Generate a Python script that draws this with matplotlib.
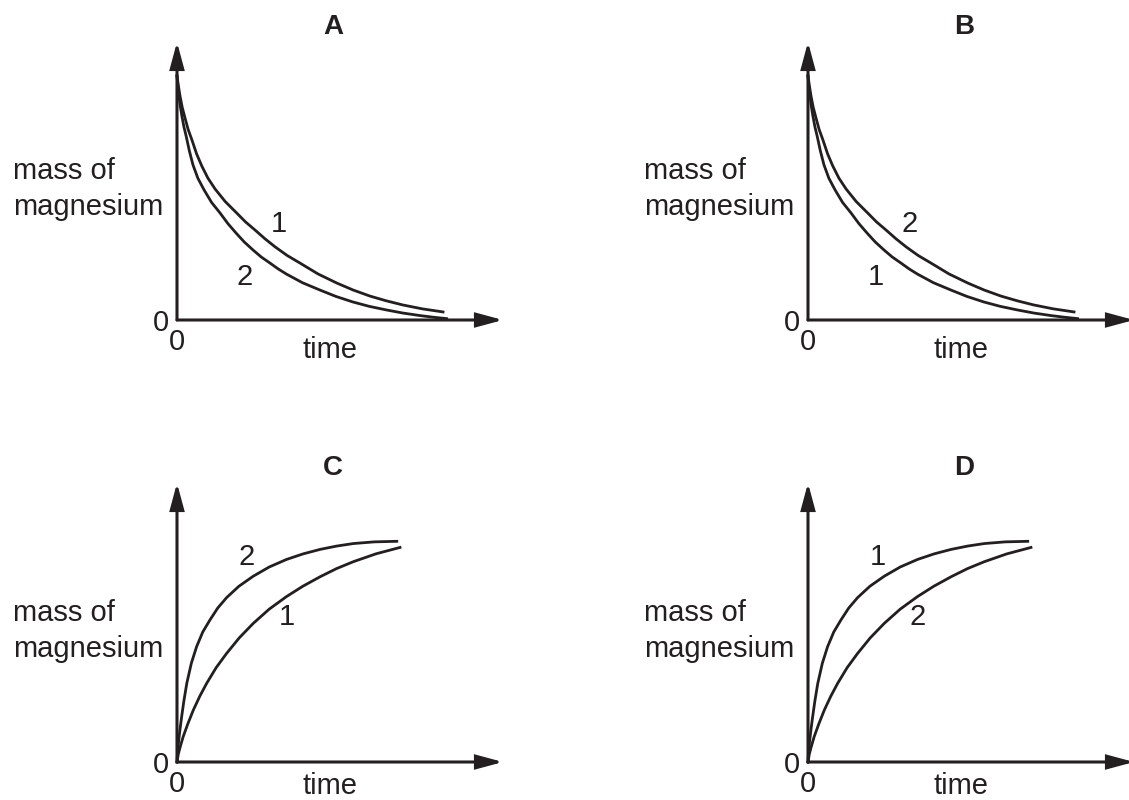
import matplotlib
matplotlib.use('Agg')
import matplotlib.pyplot as plt

plt.rcParams['font.family'] = ['Liberation Sans', 'DejaVu Sans']

# curves (time and mass in percent of the drawn axes)
# falling curves, used in A and B
fall_slow_t = [0, 0.4, 0.92, 1.6, 2.45, 3.4, 4.6, 6.0, 7.6, 9.5, 11.7, 14.8, 18.3, 21.0,
               23.9, 27.0, 30.1, 33.8, 37.7, 43.2, 49.0, 54.0, 59.2, 64.2, 69.3, 75.3, 81.6]
fall_slow_m = [87.8, 84.5, 80.6, 76.5, 72.7, 68.6, 64.7, 59.8, 55.4, 51.0, 47.1, 42.6, 38.5, 35.3,
               32.4, 29.2, 26.3, 23.2, 20.5, 16.6, 13.3, 10.8, 8.6, 6.9, 5.4, 4.0, 2.9]
fall_fast_t = [0, 0.25, 0.6, 1.0, 1.5, 2.1, 2.8, 3.8, 4.9, 6.4, 8.3, 10.6, 13.2, 15.6, 18.1, 20.6,
               23.3, 25.8, 28.5, 31.0, 33.6, 38.5, 43.8, 48.7, 53.9, 59.0, 64.3, 69.3, 74.5, 78.6, 82.7]
fall_fast_m = [87.8, 84.0, 80.6, 77.0, 73.4, 69.6, 66.2, 60.8, 55.8, 51.0, 46.8, 42.3, 38.5, 34.7, 31.3, 28.1,
               25.2, 22.7, 20.5, 18.4, 16.5, 13.4, 10.8, 8.5, 6.5, 4.9, 3.6, 2.5, 1.6, 1.0, 0.5]

# rising curves, used in C and D
rise_fast_t = [0, 0.15, 0.45, 0.9, 1.4, 2.1, 3.0, 4.4, 6.0, 7.9, 10.1, 12.5, 15.2, 19.0,
               23.4, 28.3, 33.6, 38.7, 43.9, 49.0, 54.1, 60.5, 67.4]
rise_fast_m = [0, 3.2, 7.0, 11.5, 16.0, 21.8, 28.2, 35.4, 41.3, 46.6, 50.9, 55.2, 58.9, 63.0,
               66.6, 69.9, 72.6, 74.6, 76.2, 77.4, 78.3, 78.9, 79.1]
rise_slow_t = [0, 0.4, 1.0, 1.9, 3.3, 5.0, 7.0, 9.1, 12.0, 15.2, 19.1, 23.4, 28.3, 33.6,
               38.6, 43.9, 48.9, 54.1, 61.0, 68.4]
rise_slow_m = [0, 2.8, 5.5, 9.1, 13.6, 18.6, 23.6, 28.2, 33.8, 38.9, 44.5, 49.7, 54.8, 59.3,
               63.0, 66.4, 69.3, 71.8, 74.6, 76.9]

panel_titles = ['A', 'B', 'C', 'D']
# label of the outer / inner curve in each panel
outer_labels = ['1', '2', '2', '1']
inner_labels = ['2', '1', '1', '2']

ink = '#231f20'
fs = 21

fig = plt.figure(figsize=(11.29, 8), dpi=100)

# panel boxes in figure pixels: left, bottom, width, height
boxes = [(177, 480, 326, 278), (808, 480, 326, 278),
         (177, 38, 326, 279), (808, 38, 326, 279)]

for i, (l, b, w, h) in enumerate(boxes):
    ax = fig.add_axes([l / 1129, b / 800, w / 1129, h / 800])
    ax.set_xlim(0, 100)
    ax.set_ylim(0, 100)
    ax.axis('off')

    # axes with arrow heads
    arrow = dict(arrowstyle='-|>,head_length=1.56,head_width=0.42', mutation_scale=10,
                 lw=2.2, color=ink, shrinkA=0, shrinkB=0, joinstyle='miter')
    ax.annotate('', xy=(0, 100), xytext=(0, 0), arrowprops=arrow, annotation_clip=False)
    ax.annotate('', xy=(100, 0), xytext=(0, 0), arrowprops=arrow, annotation_clip=False)

    if i < 2:
        ax.plot(fall_slow_t, fall_slow_m, color=ink, lw=2, clip_on=False, solid_joinstyle='round')
        ax.plot(fall_fast_t, fall_fast_m, color=ink, lw=2, clip_on=False, solid_joinstyle='round')
        ax.text(31.2, 31.8, outer_labels[i], fontsize=fs, ha='center', va='baseline', color=ink)
        ax.text(20.8, 12.6, inner_labels[i], fontsize=fs, ha='center', va='baseline', color=ink)
        time_y = -13.8
    else:
        ax.plot(rise_fast_t, rise_fast_m, color=ink, lw=2, clip_on=False, solid_joinstyle='round')
        ax.plot(rise_slow_t, rise_slow_m, color=ink, lw=2, clip_on=False, solid_joinstyle='round')
        ax.text(21.3, 70.6, outer_labels[i], fontsize=fs, ha='center', va='baseline', color=ink)
        ax.text(33.7, 49.1, inner_labels[i], fontsize=fs, ha='center', va='baseline', color=ink)
        time_y = -11.4

    ax.text(47.8, 102.8, panel_titles[i], fontsize=20, weight='bold', ha='center',
            va='baseline', color=ink)
    ax.text(-50.4, 50.6, 'mass of', fontsize=fs, ha='left', va='baseline', color=ink)
    ax.text(-50.4, 37.8, 'magnesium', fontsize=fs, ha='left', va='baseline', color=ink)
    ax.text(-5.0, -4.0, '0', fontsize=fs, ha='center', va='baseline', color=ink)
    ax.text(-0.1, -10.8, '0', fontsize=fs, ha='center', va='baseline', color=ink)
    ax.text(46.9, time_y, 'time', fontsize=fs, ha='center', va='baseline', color=ink)

fig.savefig('out.png', dpi=100)
